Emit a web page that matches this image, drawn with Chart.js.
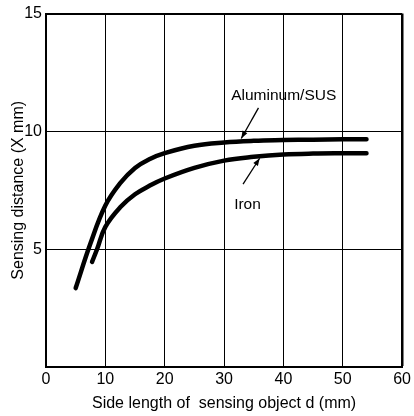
<!DOCTYPE html>
<html>
<head>
<meta charset="utf-8">
<script src="https://cdn.jsdelivr.net/npm/chart.js@4/dist/chart.umd.min.js"></script>
<style>
  body { margin: 0; background: #fff; }
  #box { width: 414px; height: 416px; }
</style>
</head>
<body>
<div id="box"><canvas id="graficoDistancia" width="414" height="416"></canvas></div>
<script>
// ---- dados
const aluminioX = [5, 7.5, 10, 12.5, 15, 17.5, 20, 25, 30, 35, 40, 45, 50, 54];
const aluminioY = [3.35, 5.25, 6.85, 7.8, 8.45, 8.83, 9.08, 9.39, 9.53, 9.6, 9.63, 9.65, 9.67, 9.67];
const ferroX = [7.76, 8.6, 10, 12.5, 15, 17.5, 20, 25, 30, 35, 40, 45, 50, 54];
const ferroY = [4.46, 5.0, 5.95, 6.78, 7.33, 7.7, 8.0, 8.45, 8.76, 8.92, 9.02, 9.06, 9.07, 9.07];
const xTicks = [0, 10, 20, 30, 40, 50, 60];
const yTicks = [5, 10, 15];

// textos e setas de anotação (coordenadas em unidades do gráfico)
const rotulos = ['Aluminum/SUS', 'Iron'];
const rotuloPos = [[31.2, 11.33], [31.7, 6.7]];
const setas = [[[35.8, 11.0], [32.9, 9.7]], [[33.2, 7.76], [36.0, 8.86]]];

const pontos = (xs, ys) => xs.map((x, i) => ({ x: x, y: ys[i] }));

const fonte = "'Liberation Sans', Arial, sans-serif";

const anotacoes = {
    id: 'anotacoes',
    afterDatasetsDraw(chart) {
        const { ctx, scales } = chart;
        const sx = scales.x, sy = scales.y;
        ctx.save();
        ctx.fillStyle = '#000';
        ctx.strokeStyle = '#000';
        ctx.font = '15.5px ' + fonte;
        ctx.textBaseline = 'alphabetic';
        rotulos.forEach((t, i) => {
            ctx.fillText(t, sx.getPixelForValue(rotuloPos[i][0]), sy.getPixelForValue(rotuloPos[i][1]));
        });
        setas.forEach(s => {
            const x1 = sx.getPixelForValue(s[0][0]), y1 = sy.getPixelForValue(s[0][1]);
            const x2 = sx.getPixelForValue(s[1][0]), y2 = sy.getPixelForValue(s[1][1]);
            ctx.lineWidth = 1.3;
            ctx.beginPath();
            ctx.moveTo(x1, y1);
            ctx.lineTo(x2, y2);
            ctx.stroke();
            // ponta da seta
            const ang = Math.atan2(y2 - y1, x2 - x1);
            const len = 8, abre = 0.35;
            ctx.beginPath();
            ctx.moveTo(x2, y2);
            ctx.lineTo(x2 - len * Math.cos(ang - abre), y2 - len * Math.sin(ang - abre));
            ctx.lineTo(x2 - len * Math.cos(ang + abre), y2 - len * Math.sin(ang + abre));
            ctx.closePath();
            ctx.fill();
        });
        ctx.restore();
    }
};

const ctx = document.getElementById('graficoDistancia').getContext('2d');
let graficoDistancia = new Chart(ctx, {
    type: 'scatter',
    data: {
        datasets: [{
            label: 'Aluminum/SUS',
            data: pontos(aluminioX, aluminioY),
            showLine: true,
            borderColor: '#000',
            borderWidth: 4.5,
            borderCapStyle: 'round',
            tension: 0.4,
            pointRadius: 0
        }, {
            label: 'Iron',
            data: pontos(ferroX, ferroY),
            showLine: true,
            borderColor: '#000',
            borderWidth: 4.5,
            borderCapStyle: 'round',
            tension: 0.4,
            pointRadius: 0
        }]
    },
    options: {
        responsive: false,
        animation: false,
        layout: { padding: { top: 7, right: 10, left: 0, bottom: 0 } },
        plugins: {
            legend: { display: false },
            tooltip: { enabled: false }
        },
        scales: {
            x: {
                type: 'linear',
                min: 0,
                max: 60,
                afterBuildTicks: s => { s.ticks = xTicks.map(v => ({ value: v })); },
                afterFit: s => { s.height = 49; },
                grid: {
                    color: '#000',
                    lineWidth: c => (c.tick && c.tick.value === 60 ? 2.5 : 1),
                    drawTicks: false
                },
                border: { color: '#000', width: 2 },
                ticks: { color: '#000', padding: 3, font: { family: fonte, size: 16 }, maxRotation: 0 },
                title: {
                    display: true,
                    text: 'Side length of  sensing object d (mm)', // título do eixo X
                    color: '#000',
                    font: { family: fonte, size: 16 },
                    padding: { top: 0, bottom: 3 }
                }
            },
            y: {
                type: 'linear',
                min: 0,
                max: 15,
                afterBuildTicks: s => { s.ticks = [0].concat(yTicks).map(v => ({ value: v })); },
                afterFit: s => { s.width = 46; },
                grid: {
                    color: '#000',
                    lineWidth: c => (c.tick && c.tick.value === 15 ? 2 : 1),
                    drawTicks: false
                },
                border: { color: '#000', width: 2 },
                ticks: {
                    color: '#000',
                    padding: 4,
                    font: { family: fonte, size: 16 },
                    callback: v => (v === 0 ? '' : v)
                },
                title: {
                    display: true,
                    text: 'Sensing distance (X mm)', // título do eixo Y
                    color: '#000',
                    font: { family: fonte, size: 16 },
                    padding: { top: 9, bottom: 0 }
                }
            }
        }
    },
    plugins: [anotacoes]
});
</script>
</body>
</html>
